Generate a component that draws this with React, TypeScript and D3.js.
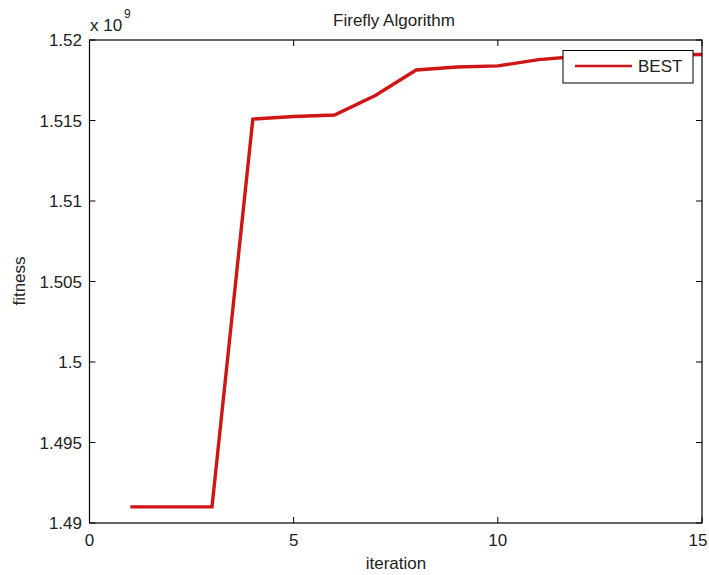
import React from "react";
import * as d3 from "d3";

const iterations = [1, 2, 3, 4, 5, 6, 7, 8, 9, 10, 11, 12, 13, 14, 15];
const bestFitness = [
  1.491e9, 1.491e9, 1.491e9, 1.51509e9, 1.51525e9, 1.51534e9, 1.51655e9, 1.51814e9,
  1.51832e9, 1.51839e9, 1.51878e9, 1.51899e9, 1.51904e9, 1.51907e9, 1.5191e9,
];
const xTicks = [0, 5, 10, 15];
const yTicks = [1.49e9, 1.495e9, 1.5e9, 1.505e9, 1.51e9, 1.515e9, 1.52e9];
const yTickLabels = ["1.49", "1.495", "1.5", "1.505", "1.51", "1.515", "1.52"];

const W = 709;
const H = 575;
const L = 89.5;
const R = 702;
const T = 40;
const B = 523;
const FONT = "'Liberation Sans', Arial, Helvetica, sans-serif";
const RED = "#d01515";

export default function App() {
  const x = d3.scaleLinear().domain([0, 15]).range([L, R]);
  const y = d3.scaleLinear().domain([1.49e9, 1.52e9]).range([B, T]);
  const line = d3
    .line<number>()
    .x((_, i) => x(iterations[i]))
    .y((d) => y(d));
  const tick = 6;
  const fs = 17;
  return (
    <svg
      width={W}
      height={H}
      style={{ position: "absolute", left: 0, top: 0, background: "#fff" }}
      fontFamily={FONT}
    >
      <rect x={0} y={0} width={W} height={H} fill="#fff" />
      <defs>
        <clipPath id="plotclip">
          <rect x={L} y={T} width={R - L} height={B - T} />
        </clipPath>
      </defs>
      <path
        d={line(bestFitness) || ""}
        fill="none"
        stroke={RED}
        strokeWidth={3.4}
        strokeLinejoin="miter"
        clipPath="url(#plotclip)"
      />
      <rect x={L} y={T} width={R - L} height={B - T} fill="none" stroke="#000" strokeWidth={1.2} />
      {xTicks.map((t) => (
        <g key={"x" + t}>
          <line x1={x(t)} x2={x(t)} y1={B} y2={B - tick} stroke="#000" />
          <line x1={x(t)} x2={x(t)} y1={T} y2={T + tick} stroke="#000" />
          <text x={Math.min(x(t), 698)} y={546} fontSize={fs} textAnchor="middle" fill="#222">
            {t}
          </text>
        </g>
      ))}
      {yTicks.map((t, i) => (
        <g key={"y" + i}>
          <line x1={L} x2={L + tick} y1={y(t)} y2={y(t)} stroke="#000" />
          <line x1={R} x2={R - tick} y1={y(t)} y2={y(t)} stroke="#000" />
          <text x={82} y={y(t) + 6} fontSize={fs} textAnchor="end" fill="#222">
            {yTickLabels[i]}
          </text>
        </g>
      ))}
      <text x={90} y={31} fontSize={fs} fill="#222">
        x 10
      </text>
      <text x={124} y={18} fontSize={12} fill="#222">
        9
      </text>
      <text x={394} y={26} fontSize={fs} textAnchor="middle" fill="#222">
        Firefly Algorithm
      </text>
      <text x={396} y={569} fontSize={fs} textAnchor="middle" fill="#222">
        iteration
      </text>
      <text
        transform={`translate(25,281) rotate(-90)`}
        fontSize={fs}
        textAnchor="middle"
        fill="#222"
      >
        fitness
      </text>
      <rect x={563} y={50.5} width={130} height={32.5} fill="#fff" stroke="#000" strokeWidth={1} />
      <line x1={575} x2={632} y1={66} y2={66} stroke={RED} strokeWidth={2.6} />
      <text x={638} y={72} fontSize={fs} fill="#222">
        BEST
      </text>
    </svg>
  );
}
